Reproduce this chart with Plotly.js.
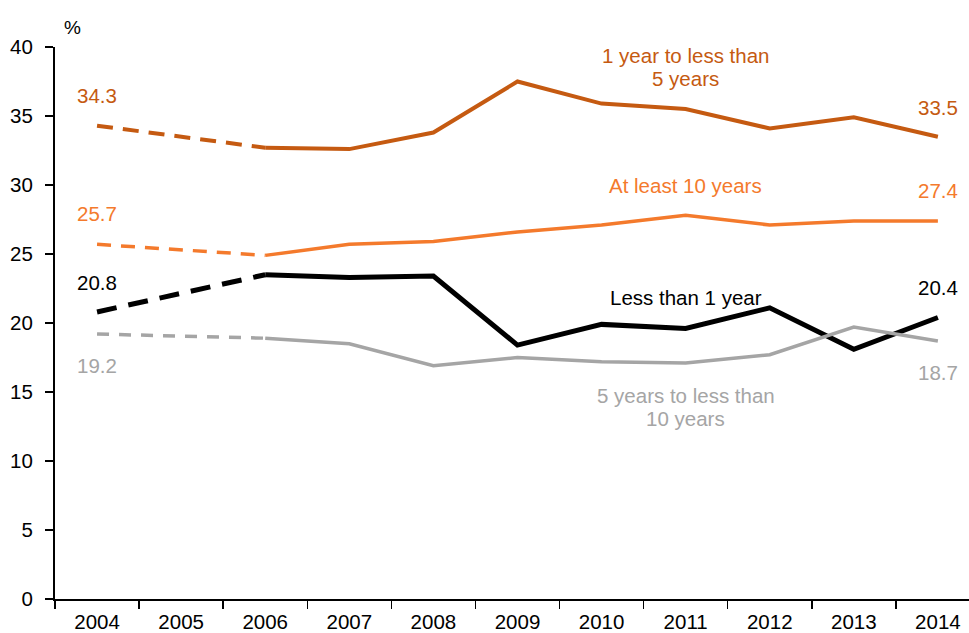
<!DOCTYPE html>
<html>
<head>
<meta charset="utf-8">
<script src="https://cdn.plot.ly/plotly-3.0.1.min.js"></script>
<style>html,body{margin:0;padding:0;background:#fff;}#chart{width:969px;height:633px;}</style>
</head>
<body>
<div id="chart"></div>
<script>
const years = ['2004','2005','2006','2007','2008','2009','2010','2011','2012','2013','2014'];
const seriesNames = ['1 year to less than<br>5 years', 'At least 10 years', 'Less than 1 year', '5 years to less than<br>10 years'];
const oneToFive   = [34.3, null, 32.7, 32.6, 33.8, 37.5, 35.9, 35.5, 34.1, 34.9, 33.5];
const tenPlus     = [25.7, null, 24.9, 25.7, 25.9, 26.6, 27.1, 27.8, 27.1, 27.4, 27.4];
const lessThanOne = [20.8, null, 23.5, 23.3, 23.4, 18.4, 19.9, 19.6, 21.1, 18.1, 20.4];
const fiveToTen   = [19.2, null, 18.9, 18.5, 16.9, 17.5, 17.2, 17.1, 17.7, 19.7, 18.7];

const allSeries = [oneToFive, tenPlus, lessThanOne, fiveToTen];
const colors = ['#C55A11', '#F47A2C', '#000000', '#A5A5A5'];
const widths = [4, 3.5, 5, 3.5];
const dashes = ['16px,10px', '14px,10px', '20px,12px', '12px,10px'];
const leftLabelY = [36.45, 27.9, 22.9, 16.9];
const rightLabelY = [35.65, 29.6, 22.6, 16.4];
const nameLabelY = [39.42, 30.0, 21.85, 14.78];
const lineStep = 1.67;

const traces = [];
allSeries.forEach((vals, i) => {
  traces.push({
    x: [years[0], years[2]], y: [vals[0], vals[2]],
    type: 'scatter', mode: 'lines', showlegend: false, hoverinfo: 'skip',
    line: {color: colors[i], width: widths[i], dash: dashes[i]}
  });
  traces.push({
    x: years.slice(2), y: vals.slice(2),
    type: 'scatter', mode: 'lines', showlegend: false,
    line: {color: colors[i], width: widths[i]}
  });
});

const fam = 'Liberation Sans, Arial, sans-serif';
const fs = 20.5;
const annotations = [];
allSeries.forEach((vals, i) => {
  annotations.push({x: 0, y: leftLabelY[i], xref: 'x', yref: 'y', text: vals[0].toFixed(1),
    showarrow: false, font: {family: fam, size: fs, color: colors[i]}, xanchor: 'center', yanchor: 'middle'});
  annotations.push({x: 10, y: rightLabelY[i], xref: 'x', yref: 'y', text: vals[10].toFixed(1),
    showarrow: false, font: {family: fam, size: fs, color: colors[i]}, xanchor: 'center', yanchor: 'middle'});
  seriesNames[i].split('<br>').forEach((line, k) => {
    annotations.push({x: 7, y: nameLabelY[i] - k * lineStep, xref: 'x', yref: 'y', text: line,
      showarrow: false, font: {family: fam, size: fs, color: colors[i]}, xanchor: 'center', yanchor: 'middle'});
  });
});
annotations.push({x: -0.29, y: 1.036, xref: 'x', yref: 'paper', text: '%', showarrow: false,
  font: {family: fam, size: 19, color: '#000'}, xanchor: 'center', yanchor: 'middle'});

const layout = {
  width: 969, height: 633,
  margin: {l: 55, r: 0, t: 47, b: 34},
  paper_bgcolor: '#fff', plot_bgcolor: '#fff',
  font: {family: fam, size: fs, color: '#000'},
  xaxis: {
    type: 'category', categoryarray: years, categoryorder: 'array',
    range: [-0.5, 10.37], tickson: 'boundaries',
    showline: true, linecolor: '#000', linewidth: 2,
    ticks: 'outside', ticklen: 8, tickcolor: '#000', tickwidth: 1.5,
    ticklabelstandoff: 3,
    showgrid: false, zeroline: false, tickfont: {size: fs, family: fam}
  },
  yaxis: {
    range: [0, 40], tickvals: [0,5,10,15,20,25,30,35,40],
    showline: true, linecolor: '#000', linewidth: 2,
    ticks: 'outside', ticklen: 8, tickcolor: '#000', tickwidth: 1.5,
    ticklabelstandoff: 8,
    showgrid: false, zeroline: false, tickfont: {size: fs, family: fam}
  },
  annotations: annotations
};
Plotly.newPlot('chart', traces, layout, {displayModeBar: false, staticPlot: true});
</script>
</body>
</html>
